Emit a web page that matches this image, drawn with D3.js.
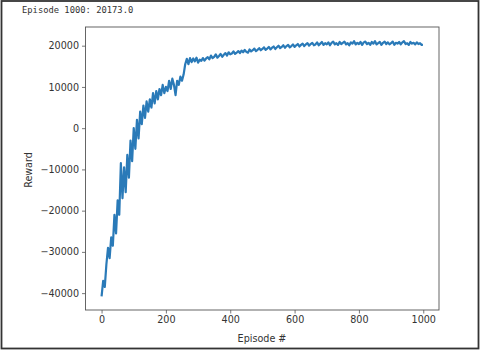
<!DOCTYPE html>
<html><head><meta charset="utf-8">
<script src="https://cdn.jsdelivr.net/npm/d3@7"></script>
<style>html,body{margin:0;padding:0;background:#fff;}svg{display:block;}</style>
</head><body>
<script>
const titleText = "Episode 1000: 20173.0";
const xTicks = [0, 200, 400, 600, 800, 1000];
const yTicks = [-40000, -30000, -20000, -10000, 0, 10000, 20000];
const episodes = d3.range(0, 1000, 5).concat([999]);
const rewards = [
-40800,-37000,-38500,-33000,-29000,-31500,-26500,-28500,-21000,-25500,
-17500,-21000,-8500,-17000,-9500,-15500,-6500,-12000,-3000,-8000,
0,-5000,2000,-2500,4000,1000,5500,2500,6500,4000,
7000,5000,8500,6000,9000,7000,9500,8000,10500,8500,
10000,9000,11500,9500,12000,10500,8000,11500,10500,12500,
11500,13000,15500,16800,15500,17000,
16000,16900,16200,17100,15900,16600,16300,17000,16400,16900,
17200,16700,17600,17000,17300,17900,17100,17500,18000,17300,
17800,18200,17600,18400,17900,18100,18600,18000,18300,18700,
18200,18800,18400,19000,18500,18300,19100,18600,18900,19300,
18700,19000,19400,18900,19200,19600,19000,19300,19700,19100,
19500,19800,19200,19600,20000,19400,19700,20100,19500,19900,
20200,19600,19900,20300,19700,20100,20400,19800,20200,20500,
19900,20300,20600,20000,20400,20700,20100,20300,20800,20100,
20500,20900,20200,20600,20300,20800,20100,20700,21000,20300,
20600,20200,20900,20400,20700,21000,20300,20600,20100,20800,
20500,21100,20300,20700,20400,20900,20200,20800,21000,20400,
20700,20200,20900,20500,21100,20300,20600,20900,20200,20700,
21000,20400,20800,20300,20600,21000,20200,20700,20500,20900,
20300,20800,21100,20400,20600,20200,20900,20500,20700,20300,
20800,20400,20600,20200,
20173];

const W = 480, H = 351;
const svg = d3.select("body").append("svg").attr("width", W).attr("height", H);
svg.append("rect").attr("x",0).attr("y",0).attr("width",W).attr("height",H).attr("fill","#fff");
svg.append("rect").attr("x",1.5).attr("y",1).attr("width",477).attr("height",347.5)
  .attr("fill","none").attr("stroke","#333").attr("stroke-width",1.8);

svg.append("text").attr("x",22).attr("y",12.5)
  .attr("font-family","'DejaVu Sans Mono', monospace").attr("font-size",8.8)
  .attr("fill","#333").text(titleText);

const L = 85.5, R = 439, T = 27, B = 310;
const x = d3.scaleLinear().domain([-49.95, 1048.95]).range([L, R]);
const y = d3.scaleLinear().domain([-44090, 24530]).range([B, T]);

const g = svg.append("g");
const line = d3.line().x((d,i)=>x(episodes[i])).y(d=>y(d));
g.append("path").datum(rewards).attr("d", line).attr("fill","none")
  .attr("stroke","#2a7ab8").attr("stroke-width",2.2).attr("stroke-linejoin","round");

const font = "'DejaVu Sans', sans-serif";
const xAxis = g.append("g").attr("transform",`translate(0,${B})`)
  .call(d3.axisBottom(x).tickValues(xTicks).tickSize(3.5).tickPadding(3).tickFormat(d3.format("d")));
const yAxis = g.append("g").attr("transform",`translate(${L},0)`)
  .call(d3.axisLeft(y).tickValues(yTicks).tickSize(3.5).tickPadding(3)
    .tickFormat(d => d < 0 ? "\u2212" + Math.abs(d) : String(d)));
[xAxis, yAxis].forEach(a => {
  a.select(".domain").remove();
  a.selectAll(".tick line").attr("stroke","#555").attr("stroke-width",0.8);
  a.selectAll("text").attr("font-family",font).attr("font-size",9.6).attr("fill","#333");
});

g.append("rect").attr("x",L).attr("y",T).attr("width",R-L).attr("height",B-T)
  .attr("fill","none").attr("stroke","#555").attr("stroke-width",0.9);

svg.append("text").attr("x",262).attr("y",342).attr("text-anchor","middle")
  .attr("font-family",font).attr("font-size",9.6).attr("fill","#333").text("Episode #");
svg.append("text").attr("transform","translate(32,170) rotate(-90)").attr("text-anchor","middle")
  .attr("font-family",font).attr("font-size",9.6).attr("fill","#333").text("Reward");
</script>
</body></html>
